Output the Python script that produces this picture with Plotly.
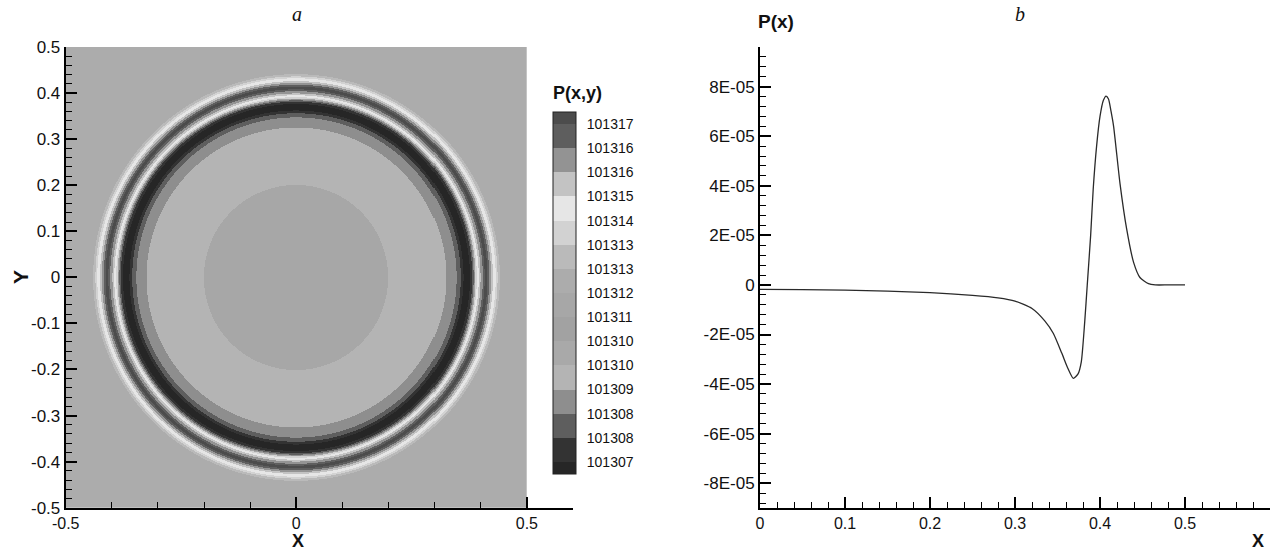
import numpy as np
import plotly.graph_objects as go

W, H = 1272, 552

# ---------------- data ----------------
# colour bands of the contour legend (index 0 = lowest pressure ... 15 = highest)
band_colors = ["#262626", "#333333", "#5e5e5e", "#8e8e8e", "#b4b4b4", "#a9a9a9",
               "#a2a2a2", "#a7a7a7", "#acacac", "#bababa", "#d2d2d2", "#e6e6e6",
               "#c3c3c3", "#939393", "#5e5e5e", "#4c4c4c"]
# legend labels, bottom to top (at the band boundaries)
level_labels = ["101307", "101308", "101308", "101309", "101310", "101310", "101311",
                "101312", "101313", "101313", "101314", "101315", "101316", "101316", "101317"]

# radial ring structure of P(x,y): outer radius of each ring and its band index
ring_outer = [0.200, 0.325, 0.347, 0.356, 0.362, 0.376, 0.381, 0.384, 0.386, 0.388,
              0.391, 0.395, 0.399, 0.404, 0.408, 0.414, 0.418, 0.422, 0.426, 0.432,
              0.436, 0.441]
ring_band = [7, 4, 3, 2, 1, 0, 1, 2, 3, 6,
             10, 11, 12, 13, 14, 15, 14, 13, 12, 11,
             10, 9]
background_band = 8

# P(x) profile (units of 1E-05)
px_x = [0.0, 0.05, 0.1, 0.15, 0.2, 0.25, 0.28, 0.30, 0.32, 0.335, 0.345, 0.355,
        0.362, 0.3686, 0.374, 0.378, 0.382, 0.385, 0.389, 0.392, 0.396, 0.400,
        0.404, 0.4071, 0.410, 0.413, 0.416, 0.4235, 0.4314, 0.4396, 0.447, 0.457,
        0.465, 0.48, 0.5]
px_val = [-0.18, -0.19, -0.21, -0.25, -0.31, -0.42, -0.52, -0.65, -0.95, -1.45, -1.95, -2.75,
          -3.35, -3.77, -3.6, -3.1, -1.5, 0.0, 2.0, 3.86, 5.6, 6.8,
          7.45, 7.62, 7.5, 7.0, 6.4, 4.1, 2.25, 0.9, 0.3, 0.05,
          0.0, 0.0, 0.0]

left_xticks = [-0.5, 0, 0.5]
left_yticks = [-0.5, -0.4, -0.3, -0.2, -0.1, 0, 0.1, 0.2, 0.3, 0.4, 0.5]
right_xticks = [0, 0.1, 0.2, 0.3, 0.4, 0.5]
right_yticks = [-8e-5, -6e-5, -4e-5, -2e-5, 0, 2e-5, 4e-5, 6e-5, 8e-5]
right_ytext = ["-8E-05", "-6E-05", "-4E-05", "-2E-05", "0", "2E-05", "4E-05", "6E-05", "8E-05"]

# ---------------- field on a grid ----------------
n = 460
h = 1.0 / n
xs = np.linspace(-0.5 + h / 2, 0.5 - h / 2, n)
ys = xs.copy()
XX, YY = np.meshgrid(xs, ys)
R = np.sqrt(XX ** 2 + YY ** 2)
bands_all = np.array(ring_band + [background_band])
idx = np.digitize(R, np.array(ring_outer))
B = bands_all[idx]
zmin, zmax = 0.5, 15.5
Z = np.clip(B + 0.5, 0.75, 15.25)

# discrete colourscale over [0.5, 15.5] with boundaries at 1..15
bounds = [0.5] + list(range(1, 16)) + [15.5]
cs = []
for k, c in enumerate(band_colors):
    a = (bounds[k] - zmin) / (zmax - zmin)
    b = (bounds[k + 1] - zmin) / (zmax - zmin)
    cs.append([a, c])
    cs.append([b, c])

def px2fx(p):
    return p / W

def py2fy(p):
    return 1 - p / H

FONT = "Liberation Sans, Arial, sans-serif"

fig = go.Figure()
fig.add_trace(go.Heatmap(
    x=xs, y=ys, z=Z, zmin=zmin, zmax=zmax, colorscale=cs,
    xaxis="x", yaxis="y", hoverinfo="skip",
    colorbar=dict(
        x=px2fx(553), xanchor="left", xpad=0, ypad=0,
        y=py2fy(293), yanchor="middle", len=362, lenmode="pixels",
        thickness=23, thicknessmode="pixels",
        outlinewidth=1, outlinecolor="#222",
        tickmode="array", tickvals=list(range(1, 16)), ticktext=level_labels,
        ticks="outside", ticklen=8, tickcolor="rgba(0,0,0,0)",
        tickfont=dict(family=FONT, size=14, color="#111"),
    ),
))

fig.add_trace(go.Scatter(
    x=px_x, y=[v * 1e-5 for v in px_val], mode="lines",
    line=dict(color="#2a2a2a", width=1.3, shape="spline", smoothing=0.6),
    xaxis="x2", yaxis="y2", hoverinfo="skip", showlegend=False,
))

axcommon = dict(showline=True, linecolor="black", linewidth=2, showgrid=False,
                zeroline=False, ticks="inside", tickcolor="black", tickwidth=2,
                ticklen=11, automargin=False)
yfont = dict(family=FONT, size=17, color="#111")
xfont = dict(family=FONT, size=16, color="#111")

fig.update_layout(
    width=W, height=H, margin=dict(l=0, r=0, t=0, b=0, autoexpand=False),
    paper_bgcolor="white", plot_bgcolor="white", showlegend=False,
    xaxis=dict(domain=[px2fx(65.7), px2fx(573)], range=[-0.5, 0.6],
               tickmode="array", tickvals=left_xticks, ticktext=["-0.5", "0", "0.5"],
               minor=dict(ticks="inside", dtick=0.1, tick0=0, ticklen=6, tickwidth=1, tickcolor="black"),
               anchor="y", tickfont=xfont, **axcommon),
    yaxis=dict(domain=[py2fy(507.7), py2fy(47)], range=[-0.5, 0.5],
               tickmode="array", tickvals=left_yticks,
               ticktext=["-0.5", "-0.4", "-0.3", "-0.2", "-0.1", "0", "0.1", "0.2", "0.3", "0.4", "0.5"],
               minor=dict(ticks="inside", dtick=0.02, tick0=0, ticklen=6, tickwidth=1, tickcolor="black"),
               anchor="x", tickfont=yfont, **axcommon),
    xaxis2=dict(domain=[px2fx(760), px2fx(1270)], range=[0, 0.6],
                tickmode="array", tickvals=right_xticks,
                ticktext=["0", "0.1", "0.2", "0.3", "0.4", "0.5"],
                minor=dict(ticks="inside", dtick=0.02, tick0=0, ticklen=6, tickwidth=1, tickcolor="black"),
                anchor="y2", tickfont=xfont, **axcommon),
    yaxis2=dict(domain=[py2fy(508), py2fy(47)], range=[-9e-5, 9.6e-5],
                tickmode="array", tickvals=right_yticks, ticktext=right_ytext,
                minor=dict(ticks="inside", dtick=0.4e-5, tick0=0, ticklen=6, tickwidth=1, tickcolor="black"),
                anchor="x2", tickfont=yfont, **axcommon),
)

def ann(text, x, y, size, bold=True, family=FONT, italic=False, angle=0, yanchor="middle"):
    t = text
    if bold:
        t = "<b>" + t + "</b>"
    if italic:
        t = "<i>" + t + "</i>"
    fig.add_annotation(text=t, x=px2fx(x), y=py2fy(y), xref="paper", yref="paper",
                       showarrow=False, xanchor="center", yanchor=yanchor, borderpad=0,
                       textangle=angle, font=dict(family=family, size=size, color="#111"))

ann("a", 297, 14, 20, bold=False, italic=True, family="Liberation Serif, Times New Roman, serif")
ann("b", 1020, 14, 20, bold=False, italic=True, family="Liberation Serif, Times New Roman, serif")
ann("X", 298, 552, 18, yanchor="bottom")
ann("Y", 20, 277, 21, angle=-90)
ann("P(x,y)", 577, 93, 18)
ann("P(x)", 776, 21, 19)
ann("X", 1258, 552, 18, yanchor="bottom")

fig.write_html(
    "out.html",
    config={"displayModeBar": False},
    post_script="document.body.style.margin='0';document.body.style.overflow='hidden';",
)
